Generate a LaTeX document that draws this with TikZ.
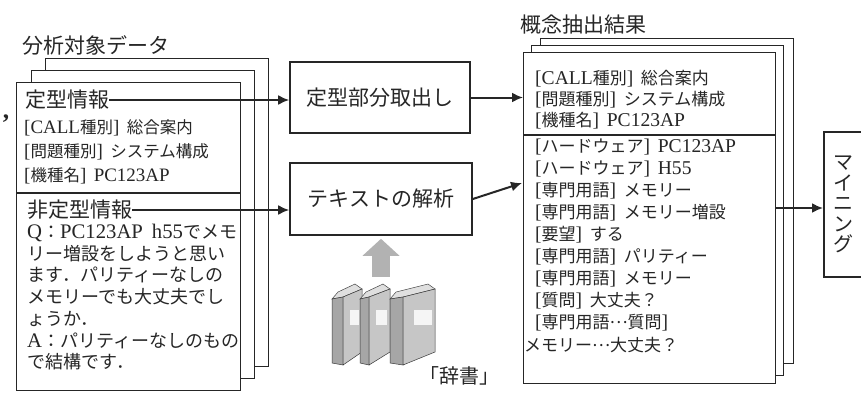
\documentclass[tikz,border=0pt]{standalone}
\usepackage{fontspec}
\setmainfont{Noto Sans CJK JP}
\newfontfamily\latin[Scale=1.15]{Liberation Serif}
\newcommand{\lt}[1]{{\latin #1}}
\newcommand{\kw}[1]{{\latin[}#1{\latin]}\hspace{0.45em}}
\newcommand{\midellipsis}{\raisebox{0.3em}{…}}
\usetikzlibrary{positioning,arrows.meta}
\definecolor{ink}{gray}{0.15}
\tikzset{
sheet/.style={draw=ink,line width=1.2pt,fill=white,anchor=north west,inner sep=0pt},
proc/.style={draw=ink,line width=1.6pt,fill=white,text=ink,font=\fontsize{21}{21}\selectfont},
heading/.style={anchor=west,inner sep=0pt,text=ink,font=\fontsize{21}{21}\selectfont},
entries/.style={anchor=north west,inner sep=0pt,align=left,text=ink},
flow/.style={draw=ink,line width=2pt,-{Latex[length=11pt,width=10pt]}},
feed/.style={draw=gray!60,line width=18pt,-{Triangle[length=17pt,width=36pt]}}
}
% one book of the dictionary: spine left, spine right, cover right
\newcommand{\dictbook}[3]{%
\fill[gray!25,draw=gray!55!black,line width=0.5pt] (#1,299) -- (#2,297) -- (#3,289) -- (#3-7,284) -- (#1+6,292) -- cycle;
\fill[gray!70,draw=gray!45!black,line width=0.5pt] (#1,299) -- (#2,297) -- (#2,365) -- (#1,363) -- cycle;
\fill[gray!45,draw=gray!45!black,line width=0.5pt] (#2,297) -- (#3,289) -- (#3,352) -- (#2,365) -- cycle;
\fill[gray!8] (#2+0.35*#3-0.35*#2,310) rectangle (#3-3,325);
}

\begin{document}
\begin{tikzpicture}[x=1pt,y=-1pt]
\path[use as bounding box,clip] (0,0) rectangle (861,394);
\fill[white] (0,0) rectangle (861,394);

\node[text=ink,font=\fontsize{22}{22}\selectfont\latin\bfseries] (mark) at (6,119) {,};

% analysed data: a stack of sheets
\node[heading] (srctitle) at (22,45) {分析対象データ};
\node[sheet,minimum width=223,minimum height=308] (src3) at (45,58) {};
\node[sheet,minimum width=223,minimum height=308] (src2) at (31,70) {};
\node[sheet,minimum width=224,minimum height=308] (src) at (16,82) {};
\draw[ink,line width=1.2pt] (src.west |- 0,193) -- (src.east |- 0,193);

\node[heading] (fixed) at (25,100) {定型情報};
\node[entries,font=\fontsize{16.5}{24}\selectfont] (fixedinfo) at (24,119) {%
\kw{\lt{CALL}種別}総合案内\\
\kw{問題種別}システム構成\\
\kw{機種名}\lt{PC123AP}};
\node[heading] (free) at (27,210) {非定型情報};
\node[entries,font=\fontsize{18}{21.7}\selectfont] (freetext) at (27,224) {%
\lt{Q}：\lt{PC123AP}\hspace{0.5em}\lt{h55}でメモ\\
リー増設をしようと思い\\
ます．パリティーなしの\\
メモリーでも大丈夫でし\\
ょうか．\\
\lt{A}：パリティーなしのもの\\
で結構です．};

% processing steps
\node[proc,minimum width=180,minimum height=71] (box1) at (380,97.5) {定型部分取出し};
\node[proc,minimum width=182,minimum height=72] (box2) at (381,199) {テキストの解析};

% dictionary
\node[minimum width=104,minimum height=80] (books) at (381,325) {};
\dictbook{332}{343}{362}
\dictbook{360}{369}{390}
\dictbook{390}{403}{435}
\node[text=ink,inner sep=0pt,font=\fontsize{20}{20}\selectfont] (dict) at (459,376) {「辞書」};

% extraction result: another stack of sheets
\node[heading] (restitle) at (520,25) {概念抽出結果};
\node[sheet,minimum width=253,minimum height=325] (res3) at (540,38) {};
\node[sheet,minimum width=252,minimum height=330] (res2) at (531,45) {};
\node[sheet,minimum width=252,minimum height=331] (res) at (523,52) {};
\draw[ink,line width=1.2pt] (res.west |- 0,135) -- (res.east |- 0,135);
\node[entries,font=\fontsize{17}{21}\selectfont] (resfixed) at (535,69.5) {%
\kw{\lt{CALL}種別}総合案内\\
\kw{問題種別}システム構成\\
\kw{機種名}\lt{PC123AP}};
\node[entries,font=\fontsize{17}{22}\selectfont] (resfree) at (535,138.5) {%
\kw{ハードウェア}\lt{PC123AP}\\
\kw{ハードウェア}\lt{H55}\\
\kw{専門用語}メモリー\\
\kw{専門用語}メモリー増設\\
\kw{要望}する\\
\kw{専門用語}パリティー\\
\kw{専門用語}メモリー\\
\kw{質問}大丈夫？\\
{\latin[}専門用語\midellipsis 質問{\latin]}};
\node[anchor=west,inner sep=0pt,text=ink,font=\fontsize{17}{17}\selectfont] (reslast) at (524,345) {メモリー\midellipsis 大丈夫？};

\node[draw=ink,line width=1.6pt,fill=white,anchor=west,minimum height=145,inner xsep=10pt,text width=20pt,align=center,text=ink,font=\fontsize{20}{20.6}\selectfont] (mining) at (823,204.5) {マ\\イ\\ニ\\ン\\グ};

\coordinate (in2) at (522,183);
\draw[flow] (fixed) -- (fixed -| box1.west);
\draw[flow] (free) -- (free -| box2.west);
\draw[flow] (box1) -- (box1 -| res.west);
\draw[flow] (box2.east) -- (in2);
\draw[flow] ([yshift=-3.5pt]mining.west -| res.east) -- ([yshift=-3.5pt]mining.west);
\draw[feed,shorten <=8pt,shorten >=3pt] (books.north -| box2.south) -- (box2.south);
\end{tikzpicture}
\end{document}
